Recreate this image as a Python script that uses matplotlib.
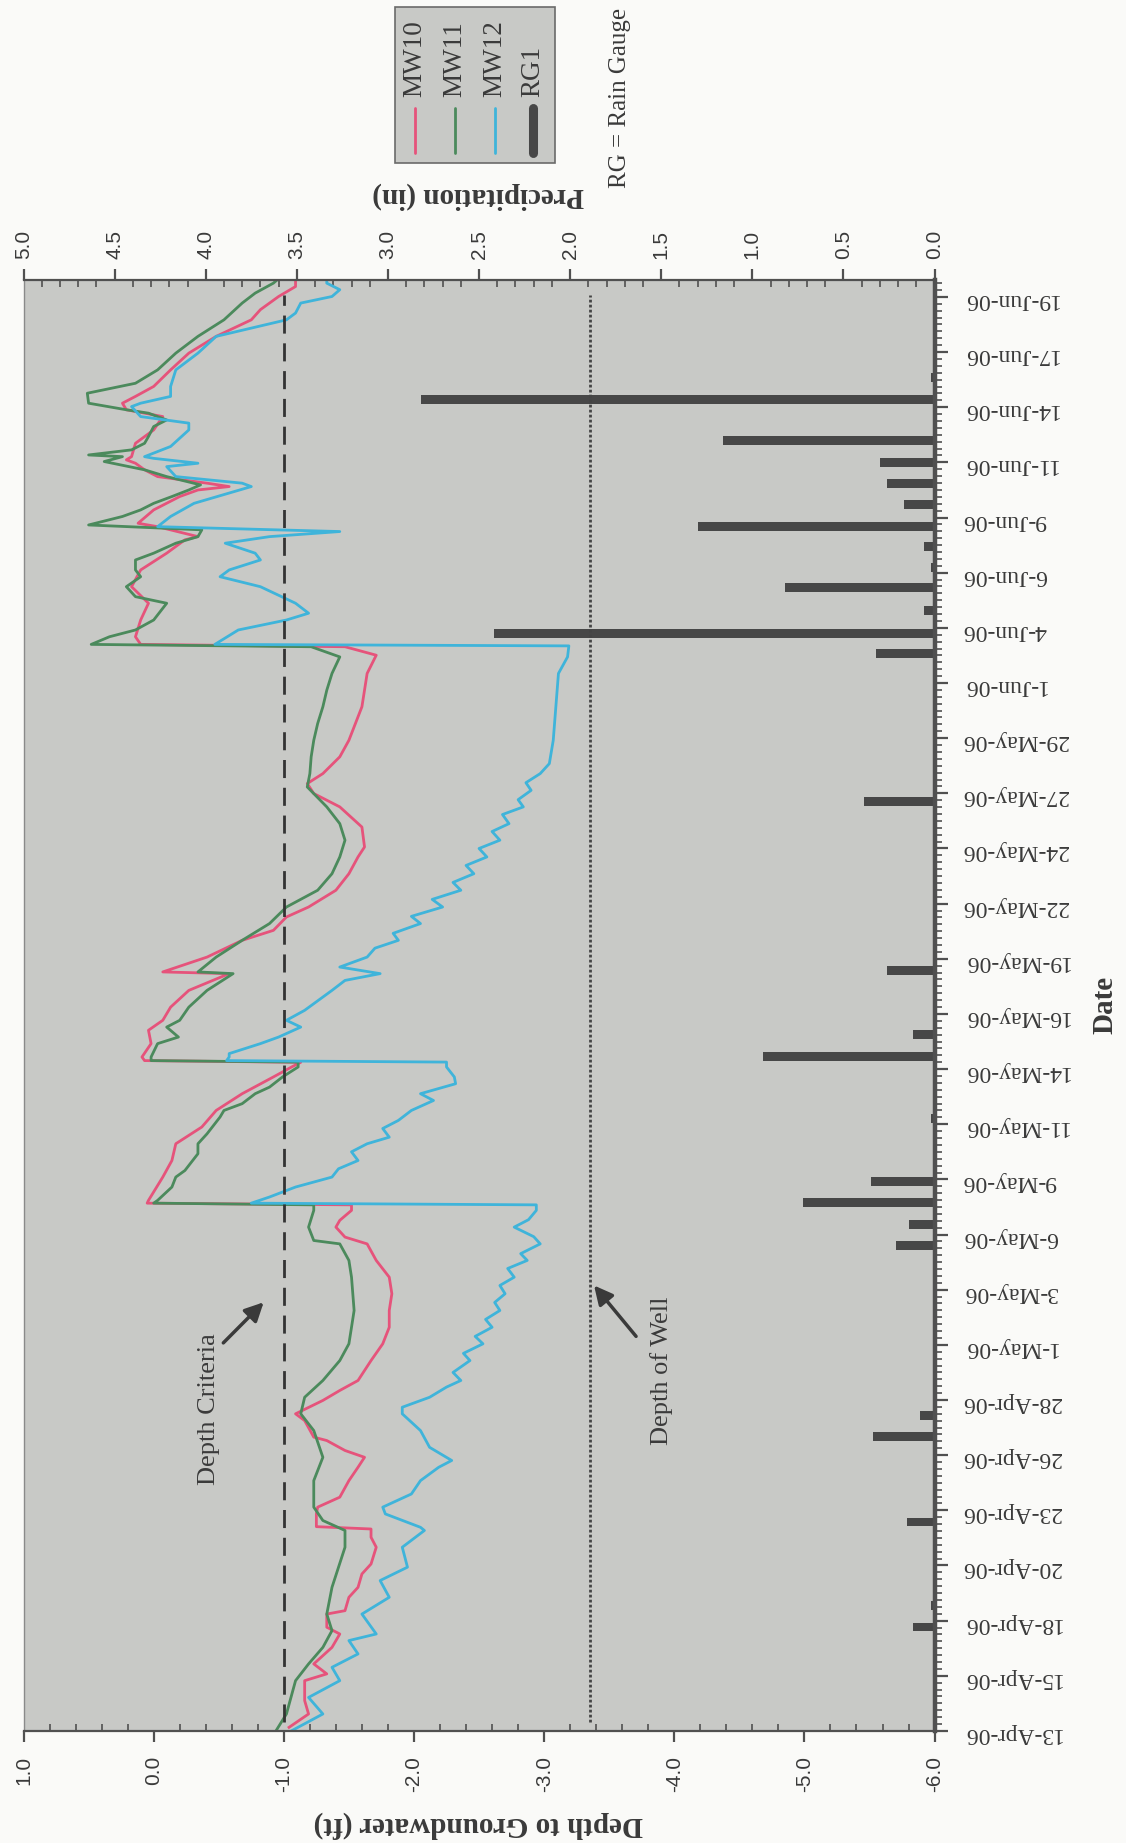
import matplotlib.pyplot as plt
import numpy as np
from matplotlib.patches import Rectangle
from matplotlib.lines import Line2D
from matplotlib.ticker import MultipleLocator

# time axis: days since 13-Apr-06 00:00 ; depth to groundwater in ft
mw10_day = [0.17, 0.80, 1.43, 2.37, 2.69, 3.16, 3.94, 4.57, 4.89, 5.51, 5.67, 6.30, 6.77,
            7.40, 7.87, 8.66, 9.13, 9.52, 9.63, 10.23, 10.55, 11.02, 11.80, 12.43, 12.90,
            13.22, 13.69, 13.85, 14.63, 14.95, 15.58, 16.05, 16.52, 17.46, 18.25, 19.03,
            19.82, 20.61, 21.39, 22.18, 22.96, 23.28, 23.75, 24.07, 24.54, 24.80, 24.88,
            25.01, 26.11, 26.89, 27.68, 28.47, 29.25, 30.04, 30.83, 31.30, 31.52, 31.60,
            31.77, 32.40, 33.03, 33.50, 34.12, 34.91, 35.70, 35.78, 36.48, 37.27, 37.74,
            38.37, 38.84, 39.63, 40.41, 41.20, 41.67, 42.61, 43.56, 44.19, 44.66, 45.13,
            45.92, 46.70, 48.28, 49.85, 50.71, 51.11, 51.22, 51.58, 52.37, 53.16, 53.94,
            54.73, 55.52, 56.15, 56.30, 56.77, 56.93, 57.56, 58.19, 58.50, 58.66, 58.82,
            59.13, 59.45, 59.76, 59.92, 60.07, 60.70, 61.33, 61.96, 62.28, 62.59, 62.91,
            63.38, 64.16, 64.95, 65.74, 66.52, 67.00, 67.62, 68.09, 68.41]
mw10_depth = [-1.04, -1.19, -1.16, -1.16, -1.33, -1.23, -1.37, -1.43, -1.33, -1.33, -1.47,
              -1.50, -1.57, -1.60, -1.67, -1.71, -1.67, -1.67, -1.25, -1.25, -1.26, -1.43,
              -1.50, -1.57, -1.62, -1.47, -1.33, -1.23, -1.16, -1.09, -1.30, -1.43, -1.57,
              -1.67, -1.76, -1.81, -1.81, -1.83, -1.81, -1.71, -1.64, -1.47, -1.40, -1.43,
              -1.52, -1.52, 0.05, 0.04, -0.07, -0.14, -0.17, -0.37, -0.48, -0.68, -0.92,
              -1.06, -1.13, 0.07, 0.09, 0.02, 0.04, -0.07, -0.13, -0.27, -0.58, -0.07,
              -0.41, -0.68, -0.92, -1.02, -1.19, -1.40, -1.50, -1.57, -1.62, -1.60, -1.43,
              -1.23, -1.18, -1.30, -1.43, -1.50, -1.60, -1.64, -1.71, -1.47, 0.10, 0.14,
              0.10, 0.04, 0.17, 0.10, -0.10, -0.24, -0.34, -0.03, 0.12, 0.00, -0.20, -0.34,
              -0.58, -0.41, -0.03, 0.07, 0.14, 0.21, 0.17, 0.14, 0.00, -0.07, 0.21, 0.24,
              0.14, 0.00, -0.13, -0.27, -0.48, -0.75, -0.82, -0.96, -1.09, -1.09]

mw11_day = [0.01, 0.80, 2.37, 3.16, 3.94, 4.73, 5.51, 6.77, 8.66, 9.45, 9.92, 10.55, 11.80,
            12.90, 14.16, 14.95, 15.73, 16.52, 17.46, 18.25, 19.03, 19.82, 21.39, 22.18,
            22.96, 23.12, 23.75, 24.54, 24.80, 24.88, 25.01, 25.64, 26.11, 26.42, 27.21,
            27.68, 28.15, 28.94, 29.25, 29.57, 30.04, 30.35, 30.83, 31.30, 31.53, 31.60,
            31.77, 32.40, 32.71, 33.18, 33.50, 34.12, 34.91, 35.70, 35.78, 36.48, 37.27,
            38.06, 38.84, 39.63, 40.41, 41.20, 41.99, 42.77, 43.56, 44.50, 45.13, 45.92,
            46.70, 47.49, 48.28, 49.06, 49.85, 50.63, 51.11, 51.22, 51.58, 51.90, 52.37,
            53.16, 53.47, 53.94, 54.41, 54.73, 55.20, 55.52, 55.99, 56.30, 56.62, 56.85,
            57.25, 57.56, 57.87, 58.19, 58.50, 58.74, 59.13, 59.45, 59.84, 60.07, 60.15,
            60.39, 60.70, 61.02, 61.49, 61.80, 62.12, 62.28, 62.59, 63.06, 63.53, 64.16,
            64.95, 65.74, 66.52, 67.31, 67.78, 68.25, 68.41]
mw11_depth = [-0.94, -1.02, -1.09, -1.19, -1.30, -1.37, -1.33, -1.37, -1.47, -1.47, -1.30,
              -1.23, -1.23, -1.30, -1.23, -1.13, -1.16, -1.30, -1.43, -1.50, -1.52, -1.54,
              -1.52, -1.50, -1.43, -1.23, -1.19, -1.23, -1.23, 0.00, -0.03, -0.14, -0.17,
              -0.24, -0.34, -0.34, -0.41, -0.51, -0.54, -0.68, -0.78, -0.89, -0.99, -1.11,
              -1.11, 0.02, 0.02, -0.03, -0.19, -0.10, -0.20, -0.27, -0.41, -0.61, -0.34,
              -0.48, -0.68, -0.89, -1.02, -1.26, -1.37, -1.43, -1.47, -1.43, -1.33, -1.18,
              -1.20, -1.21, -1.23, -1.26, -1.30, -1.33, -1.37, -1.43, -1.21, 0.48, 0.34,
              0.14, 0.00, -0.10, 0.14, 0.21, 0.10, 0.14, 0.14, 0.00, -0.17, -0.34, -0.37,
              0.50, 0.24, 0.10, 0.00, -0.14, -0.27, -0.36, -0.10, 0.07, 0.38, 0.24, 0.50,
              0.17, 0.07, 0.04, 0.00, -0.10, 0.04, 0.21, 0.50, 0.51, 0.14, -0.03, -0.17,
              -0.34, -0.54, -0.68, -0.78, -0.92, -0.95]

mw12_day = [0.01, 0.80, 1.58, 2.37, 3.00, 3.63, 4.26, 4.57, 5.51, 6.30, 7.09, 7.72, 8.66,
            9.45, 9.60, 10.23, 10.55, 11.17, 11.80, 12.43, 12.75, 13.37, 14.16, 14.95,
            15.26, 15.73, 16.21, 16.52, 16.90, 17.46, 17.80, 18.25, 18.60, 19.03, 19.40,
            19.82, 20.20, 20.61, 21.00, 21.39, 21.80, 22.18, 22.50, 22.96, 23.30, 23.75,
            24.10, 24.54, 24.80, 24.88, 25.17, 25.64, 26.11, 26.50, 26.89, 27.30, 27.68,
            27.99, 28.40, 28.78, 29.25, 29.72, 30.04, 30.51, 30.83, 31.30, 31.53, 31.60,
            31.77, 31.93, 32.40, 32.71, 33.18, 33.50, 33.97, 34.91, 35.38, 35.70, 36.01,
            36.48, 36.90, 37.27, 37.60, 38.06, 38.40, 38.84, 39.20, 39.63, 40.00, 40.41,
            40.80, 41.20, 41.60, 41.99, 42.40, 42.77, 43.20, 43.56, 43.90, 44.34, 44.70,
            45.13, 45.60, 46.70, 48.28, 49.85, 50.63, 51.15, 51.22, 51.90, 52.37, 52.69,
            53.16, 53.94, 54.41, 54.73, 55.20, 55.52, 55.99, 56.30, 56.54, 56.77, 57.25,
            57.87, 58.66, 58.82, 59.13, 59.60, 59.76, 59.99, 60.07, 60.55, 61.33, 61.65,
            61.96, 62.43, 62.59, 62.91, 63.38, 64.16, 64.95, 65.74, 66.52, 66.84, 67.31,
            67.62, 67.94, 68.25, 68.41]
mw12_depth = [-1.06, -1.30, -1.19, -1.43, -1.37, -1.57, -1.50, -1.71, -1.60, -1.81, -1.74,
              -1.95, -1.91, -2.08, -2.05, -1.78, -1.76, -1.98, -2.05, -2.19, -2.29, -2.12,
              -2.05, -1.91, -1.91, -2.12, -2.25, -2.36, -2.30, -2.43, -2.38, -2.53, -2.47,
              -2.60, -2.55, -2.66, -2.62, -2.70, -2.66, -2.77, -2.72, -2.87, -2.82, -2.97,
              -2.92, -2.77, -2.88, -2.94, -2.94, -0.75, -0.89, -1.09, -1.37, -1.42, -1.57,
              -1.52, -1.64, -1.81, -1.76, -1.88, -1.98, -2.15, -2.05, -2.32, -2.31, -2.25,
              -2.25, -0.56, -0.58, -0.58, -0.82, -0.96, -1.13, -1.02, -1.16, -1.37, -1.47,
              -1.74, -1.43, -1.64, -1.70, -1.88, -1.84, -2.05, -1.98, -2.22, -2.14, -2.36,
              -2.30, -2.46, -2.40, -2.56, -2.50, -2.66, -2.60, -2.73, -2.68, -2.84, -2.80,
              -2.90, -2.86, -2.97, -3.04, -3.07, -3.09, -3.11, -3.18, -3.19, -0.47, -0.65,
              -1.02, -1.19, -1.09, -0.82, -0.51, -0.58, -0.82, -0.78, -0.55, -0.89, -1.43,
              -0.03, -0.13, -0.31, -0.75, -0.68, -0.17, -0.10, -0.34, 0.00, 0.07, -0.13,
              -0.27, -0.27, 0.10, 0.17, 0.10, -0.13, -0.13, -0.17, -0.34, -0.48, -1.02,
              -1.09, -1.13, -1.37, -1.43, -1.33, -1.33]

# rain gauge RG1, inches
rain_day = [4.90, 5.90, 9.85, 13.90, 14.85, 22.90, 23.88, 24.90, 25.90, 28.85, 31.80, 32.84,
            35.83, 43.80, 50.80, 51.74, 52.80, 53.90, 54.85, 55.85, 56.77, 57.80, 58.80,
            59.80, 60.84, 62.75, 63.80]
rain_in = [0.12, 0.02, 0.15, 0.34, 0.08, 0.21, 0.14, 0.72, 0.35, 0.02, 0.94, 0.12,
           0.26, 0.39, 0.32, 2.42, 0.06, 0.82, 0.02, 0.06, 1.30, 0.17, 0.26,
           0.30, 1.16, 2.82, 0.02]

date_labels = ['13-Apr-06', '15-Apr-06', '18-Apr-06', '20-Apr-06', '23-Apr-06', '26-Apr-06',
               '28-Apr-06', '1-May-06', '3-May-06', '6-May-06', '9-May-06', '11-May-06',
               '14-May-06', '16-May-06', '19-May-06', '22-May-06', '24-May-06', '27-May-06',
               '29-May-06', '1-Jun-06', '4-Jun-06', '6-Jun-06', '9-Jun-06', '11-Jun-06',
               '14-Jun-06', '17-Jun-06', '19-Jun-06']
depth_ticks = [1.0, 0.0, -1.0, -2.0, -3.0, -4.0, -5.0, -6.0]
precip_ticks = [5.0, 4.5, 4.0, 3.5, 3.0, 2.5, 2.0, 1.5, 1.0, 0.5, 0.0]
depth_criteria = -1.0
well_depth = -3.35
ref_span = [0.4, 67.7]

c_mw10 = '#e6537b'
c_mw11 = '#4b8a5c'
c_mw12 = '#3fb4da'
c_rain = '#474747'
c_axis = '#505050'
c_text = '#3a3a3a'
plot_bg = '#c8c9c6'

plt.rcParams['font.family'] = ['Liberation Serif', 'DejaVu Serif']

fig = plt.figure(figsize=(11.26, 18.43), dpi=100, facecolor='#fafaf8')
ax = fig.add_axes([0.0209, 0.0608, 0.8091, 0.7873])
ax2 = ax.twiny()
ax.set_zorder(2)
ax2.set_zorder(1)
ax.patch.set_visible(False)
ax2.patch.set_visible(True)
ax2.patch.set_facecolor(plot_bg)

# precipitation bars from the date axis
ax2.barh(rain_day, rain_in, height=0.42, color=c_rain)
ax2.set_xlim(5, 0)

# groundwater
ax.plot(mw10_depth, mw10_day, color=c_mw10, lw=2.0)
ax.plot(mw11_depth, mw11_day, color=c_mw11, lw=2.0)
ax.plot(mw12_depth, mw12_day, color=c_mw12, lw=2.0)
ax.plot([depth_criteria] * 2, ref_span, color='#333333', lw=2, ls=(0, (6.5, 3.5)))
ax.plot([well_depth] * 2, ref_span, color='#444444', lw=2, ls=(0, (1, 0.8)))

ax.set_xlim(1, -6)
ax.set_ylim(0, 68.4)

# axes styling
for side in ['top', 'bottom']:
    ax.spines[side].set_color(c_axis)
    ax.spines[side].set_linewidth(1.6)
ax.spines['left'].set_color('#8a8a8a')
ax.spines['left'].set_linewidth(1.0)
ax.spines['right'].set_color(c_axis)
ax.spines['right'].set_linewidth(3.2)
for s in ax2.spines.values():
    s.set_visible(False)

ax.set_xticks(depth_ticks, [f'{v:.1f}' for v in depth_ticks], rotation=90,
              fontfamily='Liberation Sans', fontsize=15, color=c_text)
ax.xaxis.set_minor_locator(MultipleLocator(0.2))
ax.tick_params(axis='x', which='major', direction='out', length=8, width=1.6,
               color=c_axis, pad=10)
ax.tick_params(axis='x', which='minor', direction='in', length=5, width=1.2, color=c_axis)

ax2.set_xticks(precip_ticks, [f'{v:.1f}' for v in precip_ticks], rotation=90,
               fontfamily='Liberation Sans', fontsize=15, color=c_text)
ax2.xaxis.set_minor_locator(MultipleLocator(0.1))
ax2.tick_params(axis='x', which='major', direction='out', length=8, width=1.6,
                color=c_axis, pad=7)
ax2.tick_params(axis='x', which='minor', direction='in', length=5, width=1.2, color=c_axis)

ax.yaxis.tick_right()
ax.set_yticks(np.arange(len(date_labels)) * 2.6, date_labels, rotation=180,
              fontsize=17, color=c_text)
ax.yaxis.set_minor_locator(MultipleLocator(0.325))
ax.tick_params(axis='y', which='major', direction='out', length=9, width=1.6,
               color=c_axis, pad=11)
ax.tick_params(axis='y', which='minor', direction='out', length=5, width=1.2, color=c_axis)

# axis titles
W, H = 1126, 1843
fig.text(478 / W, 1 - 1825 / H, 'Depth to Groundwater (ft)', rotation=180, ha='center',
         va='center', fontsize=21, fontweight='bold', color=c_text)
fig.text(478 / W, 1 - 196 / H, 'Precipitation (in)', rotation=180, ha='center',
         va='center', fontsize=21, fontweight='bold', color=c_text)
fig.text(1105 / W, 1 - 1005 / H, 'Date', rotation=90, ha='center', va='center',
         fontsize=21, fontweight='bold', color=c_text)

# annotations
ax.text(-0.425, 15.15, 'Depth Criteria', rotation=90, ha='center', va='center',
        fontsize=19, color=c_text)
ax.annotate('', xy=(-0.86, 20.3), xytext=(-0.52, 18.2),
            arrowprops=dict(arrowstyle='-|>', color='#3a3a3a', lw=2.5, mutation_scale=28))
ax.text(-3.90, 17.0, 'Depth of Well', rotation=90, ha='center', va='center',
        fontsize=19, color=c_text)
ax.annotate('', xy=(-3.37, 21.1), xytext=(-3.72, 18.5),
            arrowprops=dict(arrowstyle='-|>', color='#3a3a3a', lw=2.5, mutation_scale=28))

# legend box drawn rotated like the rest of the page
fig.add_artist(Rectangle((395 / W, 1 - 163 / H), 160 / W, 156 / H,
                         transform=fig.transFigure, facecolor=plot_bg,
                         edgecolor='#6a6a6a', lw=1.2))
legend_names = ['MW10', 'MW11', 'MW12', 'RG1']
legend_colors = [c_mw10, c_mw11, c_mw12, c_rain]
legend_widths = [2.0, 2.0, 2.0, 6.5]
legend_x = [415, 455, 495, 533]
for name, col, lw, x in zip(legend_names, legend_colors, legend_widths, legend_x):
    fig.add_artist(Line2D([x / W, x / W], [1 - 153 / H, 1 - 108 / H],
                          transform=fig.transFigure, color=col, lw=lw,
                          solid_capstyle='round'))
    fig.text(x / W, 1 - 97 / H, name, rotation=90, ha='center', va='bottom',
             fontsize=19.5, color=c_text)
fig.text(620 / W, 1 - 98 / H, 'RG = Rain Gauge', rotation=90, ha='center',
         va='center', fontsize=18, color=c_text)

fig.savefig('out.png', dpi=100, facecolor=fig.get_facecolor())
